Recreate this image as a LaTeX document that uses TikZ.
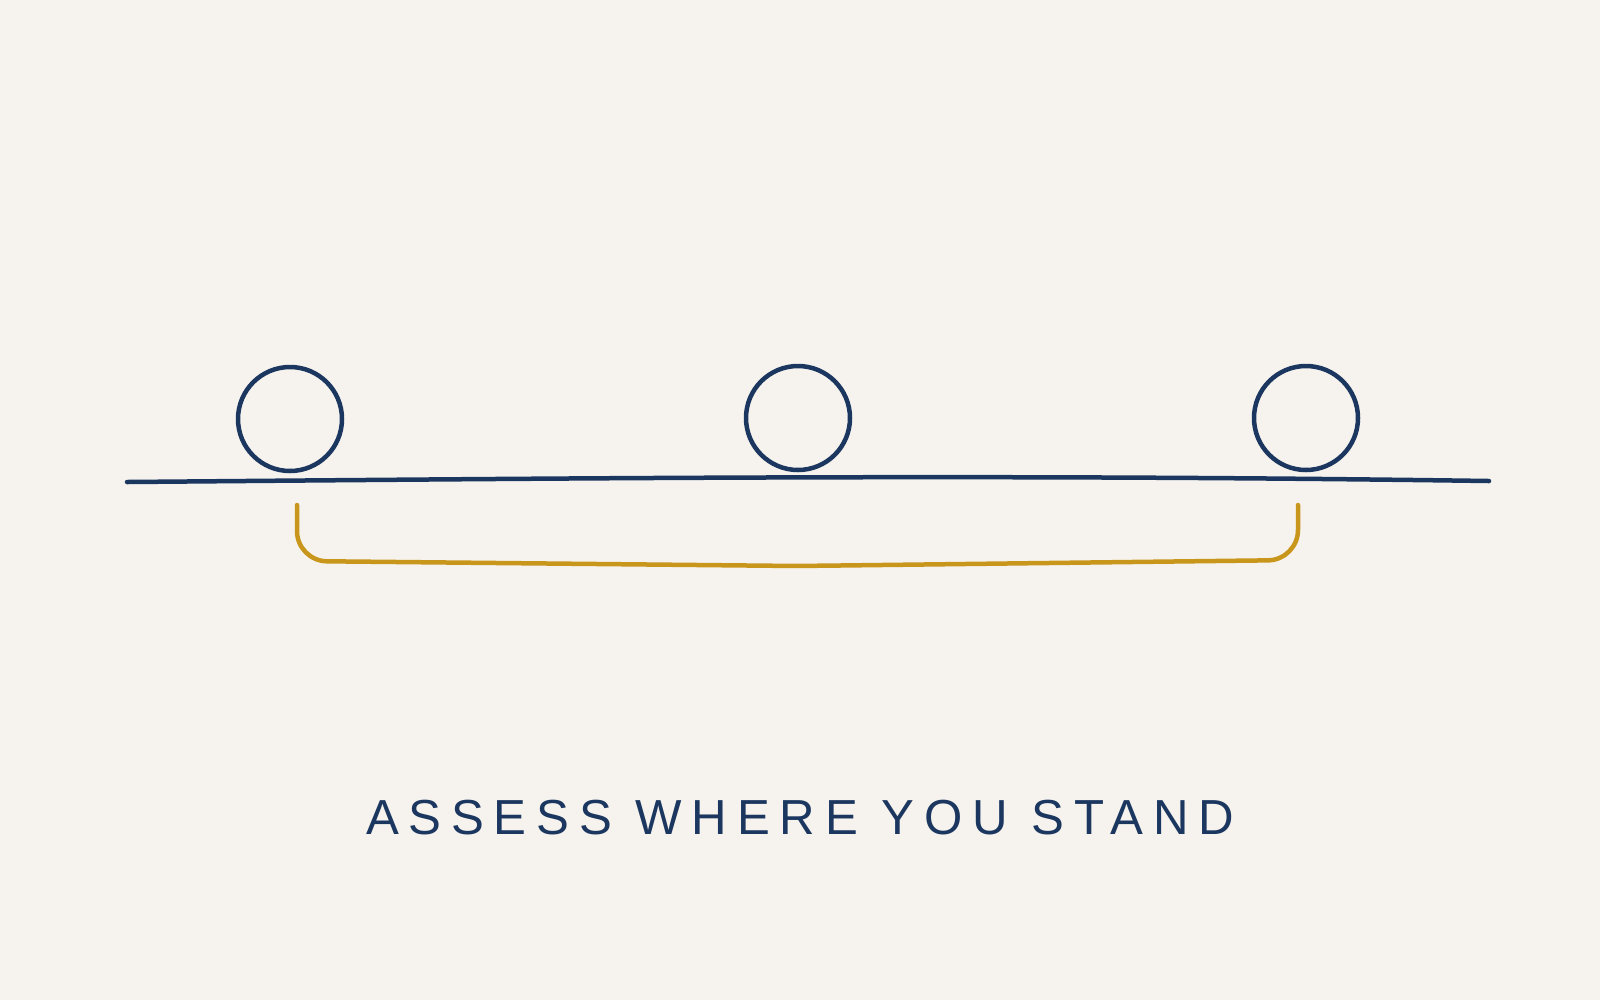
\documentclass[tikz,border=0pt]{standalone}
\usepackage{fontspec}
\setmainfont{Liberation Sans}
\usetikzlibrary{positioning}

\definecolor{paper}{HTML}{F6F3EE}
\definecolor{ink}{HTML}{1B365F}
\definecolor{ochre}{HTML}{C9961C}

\begin{document}
\begin{tikzpicture}[
    x=0.1mm, y=-0.1mm,
    stone/.style={circle, draw=ink, line width=0.45mm, minimum size=10.4mm, inner sep=0pt},
    ground/.style={draw=ink, line width=0.45mm, line cap=round},
    bracket/.style={draw=ochre, line width=0.45mm, line cap=round, rounded corners=3mm},
    title/.style={text=ink, font=\fontsize{14}{16}\selectfont\addfontfeatures{LetterSpace=20}}
]
    \fill[paper] (0,0) rectangle (1600,1000);
    \useasboundingbox (0,0) rectangle (1600,1000);

    \node[stone] (stoneleft) at (290,419) {};
    \node[stone] (stonemid) at (798,418) {};
    \node[stone] (stoneright) at (1306,418) {};

    \coordinate (groundleft) at (127,482);
    \coordinate (groundright) at (1489,481);
    \draw[ground] (groundleft) .. controls (600,478) and (1000,474) .. (groundright);

    \coordinate (bracketleft) at (297,505);
    \coordinate (bracketright) at (1298,505);
    \draw[bracket] (bracketleft) -- (297,561) -- (798,566) -- (1298,560) -- (bracketright);

    \node[title, anchor=base] (caption) at (800,834) {ASSESS WHERE YOU STAND};
\end{tikzpicture}
\end{document}
